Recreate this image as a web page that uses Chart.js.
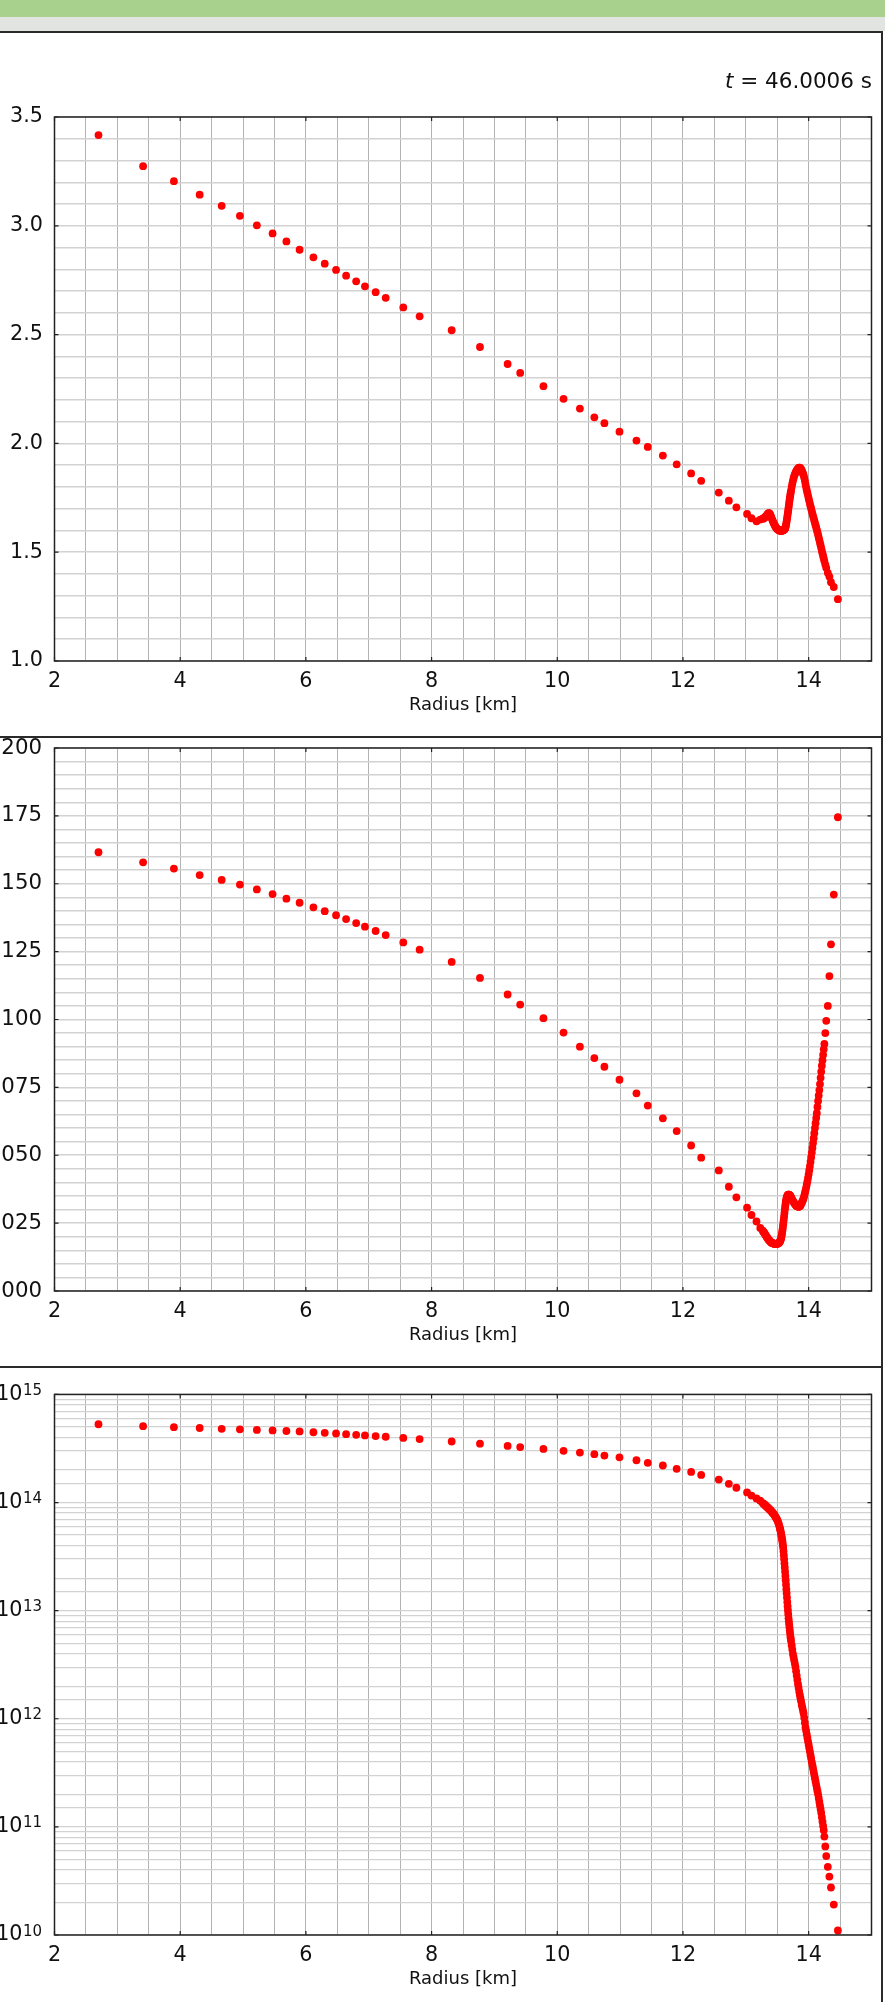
<!DOCTYPE html>
<html>
<head>
<meta charset="utf-8">
<script src="https://cdn.jsdelivr.net/npm/chart.js@4.4.0/dist/chart.umd.min.js"></script>
<style>
  html, body { margin: 0; padding: 0; background: #fff; overflow: hidden; }
  body { width: 885px; height: 2002px; position: relative; }
  .bar-green { position: absolute; left: 0; top: 0; width: 885px; height: 17px; background: #a9d18e; z-index: 3; }
  .bar-gray { position: absolute; left: 0; top: 17px; width: 885px; height: 14px; background: #e1e4e0; z-index: 3; }
  .hline { position: absolute; left: 0; width: 883px; height: 2px; background: #2a2a2a; z-index: 3; }
  .vline { position: absolute; left: 881px; top: 31px; width: 2px; height: 1971px; background: #2a2a2a; z-index: 3; }
  canvas { position: absolute; left: -60px; }
</style>
</head>
<body>
<div class="bar-green"></div>
<div class="bar-gray"></div>
<div class="hline" style="top:31px"></div>
<div class="hline" style="top:736px"></div>
<div class="hline" style="top:1366px"></div>
<div class="vline"></div>
<canvas id="chartTop" width="940" height="696" style="top:20px"></canvas>
<canvas id="chartMiddle" width="940" height="626" style="top:720px"></canvas>
<canvas id="chartDensity" width="940" height="640" style="top:1350px"></canvas>
<script>
// DATA
const radius = [
  2.70, 3.41, 3.90, 4.31, 4.66, 4.95, 5.22, 5.47, 5.69, 5.90,
  6.12, 6.30, 6.48, 6.64, 6.80, 6.94, 7.11, 7.27, 7.55, 7.81,
  8.32, 8.77, 9.21, 9.41, 9.78, 10.10, 10.36, 10.59, 10.75, 10.99,
  11.26, 11.44, 11.68, 11.90, 12.13, 12.29, 12.57, 12.73, 12.85, 13.02,
  13.09, 13.17, 13.23,
  13.27, 13.28, 13.29, 13.30, 13.31, 13.32, 13.33, 13.34, 13.35, 13.36,
  13.37, 13.38, 13.39, 13.40, 13.41, 13.42, 13.43, 13.44, 13.45, 13.46,
  13.47, 13.48, 13.49, 13.50, 13.51, 13.52, 13.53, 13.54,
  13.545, 13.550, 13.555, 13.560, 13.565, 13.570, 13.575, 13.580, 13.585, 13.590,
  13.595, 13.600, 13.605, 13.610, 13.615, 13.620, 13.625, 13.630, 13.635, 13.640,
  13.645, 13.650, 13.655, 13.660, 13.665, 13.670, 13.675, 13.680, 13.685, 13.690,
  13.695, 13.700, 13.705, 13.710, 13.715, 13.720,
  13.73, 13.74, 13.75, 13.76, 13.77, 13.78, 13.79, 13.80, 13.81, 13.82,
  13.83, 13.84, 13.85, 13.86, 13.87, 13.88, 13.89, 13.90, 13.91, 13.92,
  13.93, 13.94, 13.95, 13.96, 13.97, 13.98, 13.99, 14.00, 14.01, 14.02,
  14.03, 14.04, 14.05, 14.06, 14.07, 14.08, 14.09, 14.10, 14.11, 14.12,
  14.13, 14.14, 14.15, 14.16, 14.17, 14.18, 14.19, 14.20, 14.21, 14.22,
  14.23, 14.24, 14.25,
  14.265, 14.28, 14.305, 14.33, 14.355, 14.40, 14.465
];

const seriesTop = [
  3.417, 3.274, 3.205, 3.143, 3.092, 3.046, 3.002, 2.965, 2.928, 2.890,
  2.855, 2.826, 2.797, 2.771, 2.745, 2.722, 2.695, 2.669, 2.625, 2.584,
  2.520, 2.443, 2.365, 2.324, 2.263, 2.205, 2.160, 2.120, 2.093, 2.054,
  2.013, 1.984, 1.944, 1.904, 1.862, 1.828, 1.774, 1.737, 1.706, 1.676,
  1.656, 1.642, 1.650,
  1.654, 1.655, 1.657, 1.659, 1.662, 1.665, 1.668, 1.672, 1.676, 1.679,
  1.680, 1.677, 1.672, 1.665, 1.657, 1.650, 1.643, 1.636, 1.630, 1.624,
  1.619, 1.614, 1.610, 1.607, 1.604, 1.602, 1.601, 1.600,
  1.600, 1.599, 1.599, 1.599, 1.599, 1.599, 1.600, 1.600, 1.600, 1.601,
  1.601, 1.602, 1.603, 1.604, 1.605, 1.607, 1.610, 1.614, 1.619, 1.626,
  1.634, 1.643, 1.652, 1.662, 1.672, 1.682, 1.693, 1.704, 1.715, 1.726,
  1.737, 1.747, 1.757, 1.766, 1.775, 1.784,
  1.800, 1.815, 1.828, 1.840, 1.850, 1.858, 1.865, 1.871, 1.876, 1.880,
  1.884, 1.887, 1.888, 1.888, 1.886, 1.882, 1.876, 1.869, 1.862, 1.854,
  1.842, 1.828, 1.813, 1.798, 1.785, 1.772, 1.760, 1.747, 1.735, 1.723,
  1.711, 1.700, 1.689, 1.677, 1.666, 1.656, 1.645, 1.635, 1.624, 1.614,
  1.603, 1.592, 1.580, 1.568, 1.556, 1.544, 1.532, 1.519, 1.507, 1.495,
  1.483, 1.471, 1.459,
  1.443, 1.428, 1.405, 1.388, 1.362, 1.340, 1.284
];

const seriesMiddle = [
  1.1616, 1.1579, 1.1556, 1.1532, 1.1514, 1.1497, 1.1479, 1.1462, 1.1445, 1.1430,
  1.1413, 1.1399, 1.1384, 1.1370, 1.1355, 1.1342, 1.1326, 1.1311, 1.1284, 1.1257,
  1.1212, 1.1153, 1.1092, 1.1055, 1.1005, 1.0952, 1.0900, 1.0858, 1.0826, 1.0778,
  1.0728, 1.0683, 1.0636, 1.0589, 1.0536, 1.0491, 1.0444, 1.0384, 1.0345, 1.0307,
  1.0280, 1.0256, 1.0232,
  1.0222, 1.0218, 1.0215, 1.0212, 1.0208, 1.0204, 1.0200, 1.0197, 1.0193, 1.0190,
  1.0187, 1.0185, 1.0182, 1.0180, 1.0178, 1.0177, 1.0176, 1.0175, 1.0174, 1.0173,
  1.0173, 1.0173, 1.0173, 1.0174, 1.0175, 1.0176, 1.0178, 1.0181,
  1.0183, 1.0186, 1.0189, 1.0193, 1.0198, 1.0204, 1.0211, 1.0219, 1.0227, 1.0236,
  1.0246, 1.0256, 1.0266, 1.0276, 1.0287, 1.0298, 1.0308, 1.0317, 1.0325, 1.0332,
  1.0338, 1.0343, 1.0347, 1.0350, 1.0352, 1.0354, 1.0355, 1.0355, 1.0355, 1.0354,
  1.0353, 1.0352, 1.0350, 1.0349, 1.0347, 1.0345,
  1.0341, 1.0336, 1.0332, 1.0328, 1.0324, 1.0321, 1.0318, 1.0315, 1.0313, 1.0312,
  1.0311, 1.0310, 1.0311, 1.0312, 1.0315, 1.0320, 1.0325, 1.0330, 1.0336, 1.0342,
  1.0351, 1.0360, 1.0370, 1.0381, 1.0392, 1.0404, 1.0417, 1.0430, 1.0445, 1.0460,
  1.0476, 1.0493, 1.0510, 1.0527, 1.0545, 1.0563, 1.0581, 1.0600, 1.0618, 1.0637,
  1.0655, 1.0678, 1.0700, 1.0720, 1.0740, 1.0762, 1.0785, 1.0808, 1.0830, 1.0850,
  1.0870, 1.0890, 1.0910,
  1.0950, 1.0995, 1.1050, 1.1160, 1.1277, 1.1460, 1.1745
];

const seriesDensity = [
  5.30e14, 5.08e14, 4.98e14, 4.89e14, 4.81e14, 4.75e14, 4.69e14, 4.64e14, 4.59e14, 4.55e14,
  4.47e14, 4.41e14, 4.35e14, 4.29e14, 4.23e14, 4.18e14, 4.12e14, 4.06e14, 3.96e14, 3.86e14,
  3.67e14, 3.50e14, 3.34e14, 3.26e14, 3.13e14, 3.01e14, 2.90e14, 2.80e14, 2.72e14, 2.62e14,
  2.46e14, 2.33e14, 2.20e14, 2.05e14, 1.92e14, 1.80e14, 1.63e14, 1.49e14, 1.37e14, 1.24e14,
  1.16e14, 1.09e14, 1.04e14,
  9.89e13, 9.79e13, 9.68e13, 9.55e13, 9.44e13, 9.31e13, 9.20e13, 9.08e13, 8.97e13, 8.85e13,
  8.73e13, 8.63e13, 8.51e13, 8.41e13, 8.28e13, 8.15e13, 8.02e13, 7.89e13, 7.76e13, 7.59e13,
  7.41e13, 7.24e13, 7.08e13, 6.92e13, 6.68e13, 6.43e13, 6.17e13, 5.89e13,
  5.73e13, 5.56e13, 5.37e13, 5.19e13, 5.01e13, 4.84e13, 4.66e13, 4.47e13, 4.25e13, 4.03e13,
  3.80e13, 3.55e13, 3.26e13, 2.99e13, 2.74e13, 2.51e13, 2.29e13, 2.09e13, 1.91e13, 1.74e13,
  1.58e13, 1.45e13, 1.32e13, 1.20e13, 1.10e13, 1.01e13, 9.29e12, 8.51e12, 7.98e12, 7.48e12,
  7.01e12, 6.58e12, 6.17e12, 5.75e12, 5.50e12, 5.25e12,
  4.79e12, 4.37e12, 3.98e12, 3.72e12, 3.47e12, 3.24e12, 3.02e12, 2.75e12, 2.51e12, 2.29e12,
  2.10e12, 1.94e12, 1.78e12, 1.66e12, 1.55e12, 1.45e12, 1.35e12, 1.27e12, 1.19e12, 1.12e12,
  1.02e12, 9.18e11, 8.32e11, 7.73e11, 7.18e11, 6.67e11, 6.19e11, 5.75e11, 5.35e11, 4.97e11,
  4.61e11, 4.29e11, 3.98e11, 3.72e11, 3.47e11, 3.24e11, 3.02e11, 2.82e11, 2.63e11, 2.45e11,
  2.29e11, 2.14e11, 2.00e11, 1.85e11, 1.71e11, 1.58e11, 1.46e11, 1.35e11, 1.23e11, 1.12e11,
  1.02e11, 9.33e10, 8.13e10,
  6.60e10, 5.37e10, 4.27e10, 3.47e10, 2.75e10, 1.91e10, 1.10e10
];

// TICK LABELS
const xLabeled = [2, 4, 6, 8, 10, 12, 14];
const topLabeled = [1.0, 1.5, 2.0, 2.5, 3.0, 3.5];
const middleLabeled = [1.000, 1.025, 1.050, 1.075, 1.100, 1.125, 1.150, 1.175, 1.200];
const densityLabeled = [1e10, 1e11, 1e12, 1e13, 1e14, 1e15];
const timeValue = '46.0006';

Chart.defaults.font.family = '"DejaVu Sans", sans-serif';
Chart.defaults.color = '#111';

function isLabeled(list, v, tol) { return list.some(l => Math.abs(l - v) < tol); }
function decadeOf(v) {
  const e = Math.round(Math.log10(v));
  if (Math.abs(Math.log10(v) - e) > 1e-9 || !densityLabeled.includes(Math.pow(10, e))) return null;
  return e;
}

// FRAME + INWARD TICKS
const framePlugin = {
  id: 'frame',
  afterDatasetsDraw(chart) {
    const { ctx, chartArea: a, scales } = chart;
    const len = 4;
    ctx.save();
    ctx.strokeStyle = '#222';
    ctx.lineWidth = 1.2;
    ctx.beginPath();
    scales.x.ticks.forEach(t => {
      if (!t.label) return;
      const px = scales.x.getPixelForValue(t.value);
      ctx.moveTo(px, a.bottom); ctx.lineTo(px, a.bottom - len);
      ctx.moveTo(px, a.top); ctx.lineTo(px, a.top + len);
    });
    scales.y.ticks.forEach(t => {
      if (!t.label) return;
      const py = scales.y.getPixelForValue(t.value);
      ctx.moveTo(a.left, py); ctx.lineTo(a.left + len, py);
      ctx.moveTo(a.right, py); ctx.lineTo(a.right - len, py);
    });
    ctx.stroke();
    ctx.lineWidth = 1.5;
    ctx.strokeRect(a.left, a.top, a.right - a.left, a.bottom - a.top);
    ctx.restore();
  }
};

// exponents of the 10^n labels (log panel)
const exponentPlugin = {
  id: 'exponents',
  afterDraw(chart) {
    const ctx = chart.ctx;
    const s = chart.scales.y;
    ctx.save();
    ctx.fillStyle = '#111';
    ctx.font = '15px "DejaVu Sans"';
    ctx.textAlign = 'left';
    ctx.textBaseline = 'alphabetic';
    s.ticks.forEach(t => {
      const e = decadeOf(t.value);
      if (e === null) return;
      ctx.fillText(String(e), s.right - 31.5, s.getPixelForValue(t.value) + 0.5);
    });
    ctx.restore();
  }
};

// t = ... label, top right
const timePlugin = {
  id: 'timeLabel',
  afterDraw(chart) {
    const ctx = chart.ctx;
    const a = chart.chartArea;
    const y = 67.5;
    ctx.save();
    ctx.fillStyle = '#111';
    ctx.textBaseline = 'alphabetic';
    ctx.textAlign = 'left';
    ctx.font = '21.5px "DejaVu Sans"';
    const rest = ' = ' + timeValue + ' s';
    const x = a.right + 0.5 - ctx.measureText(rest).width;
    ctx.fillText(rest, x, y);
    ctx.font = 'italic 21.5px "DejaVu Sans"';
    ctx.fillText('t', x - ctx.measureText('t').width, y);
    ctx.restore();
  }
};

function makeChart(id, values, yOpts, padTop, extra) {
  return new Chart(document.getElementById(id), {
    type: 'scatter',
    data: {
      datasets: [{
        data: radius.map((r, i) => ({ x: r, y: values[i] })),
        backgroundColor: '#ff0000',
        borderWidth: 0,
        pointRadius: 3.9,
        pointHoverRadius: 3.9
      }]
    },
    options: {
      responsive: false,
      animation: false,
      devicePixelRatio: 1,
      events: [],
      layout: { padding: { top: padTop, right: 5, left: 0, bottom: 0 } },
      plugins: { legend: { display: false }, tooltip: { enabled: false } },
      scales: {
        x: {
          type: 'linear', min: 2, max: 15,
          afterFit: s => { s.height = 55; },
          border: { display: false },
          grid: { color: '#b3b3b3', lineWidth: 1, drawTicks: false },
          ticks: {
            stepSize: 0.5, autoSkip: false, maxRotation: 0, maxTicksLimit: 1000,
            padding: 8.5, color: '#111', font: { size: 20.7 },
            callback: v => isLabeled(xLabeled, v, 1e-6) ? String(Math.round(v)) : ''
          },
          title: { display: true, text: 'Radius [km]', color: '#111', font: { size: 18 }, padding: 0 }
        },
        y: Object.assign({
          afterFit: s => { s.width = 114.5; },
          border: { display: false }
        }, yOpts)
      }
    },
    plugins: [framePlugin].concat(extra || [])
  });
}

// PAINEL 1
makeChart('chartTop', seriesTop, {
  type: 'linear', min: 1.0, max: 3.5,
  grid: { color: '#d2d2d2', lineWidth: 1.5, drawTicks: false },
  ticks: {
    stepSize: 0.1, autoSkip: false, maxTicksLimit: 1000, padding: 11.5,
    color: '#111', font: { size: 20.7 },
    callback: v => isLabeled(topLabeled, v, 1e-6) ? v.toFixed(1) : ''
  }
}, 97, [timePlugin]);

// PAINEL 2
makeChart('chartMiddle', seriesMiddle, {
  type: 'linear', min: 1.0, max: 1.2,
  grid: { color: '#d2d2d2', lineWidth: 1.5, drawTicks: false },
  ticks: {
    stepSize: 0.005, autoSkip: false, maxTicksLimit: 1000, padding: 12.5,
    color: '#111', font: { size: 21.3 },
    callback: v => isLabeled(middleLabeled, v, 1e-7) ? v.toFixed(3) : ''
  }
}, 28);

// PAINEL 3 (log)
makeChart('chartDensity', seriesDensity, {
  type: 'logarithmic', min: 1e10, max: 1e15,
  grid: { color: '#d2d2d2', lineWidth: 1.2, drawTicks: false },
  ticks: {
    autoSkip: false, padding: 32, color: '#111', font: { size: 20.7 },
    callback: v => decadeOf(v) === null ? '' : '10'
  }
}, 41.5, [exponentPlugin]);
</script>
</body>
</html>
